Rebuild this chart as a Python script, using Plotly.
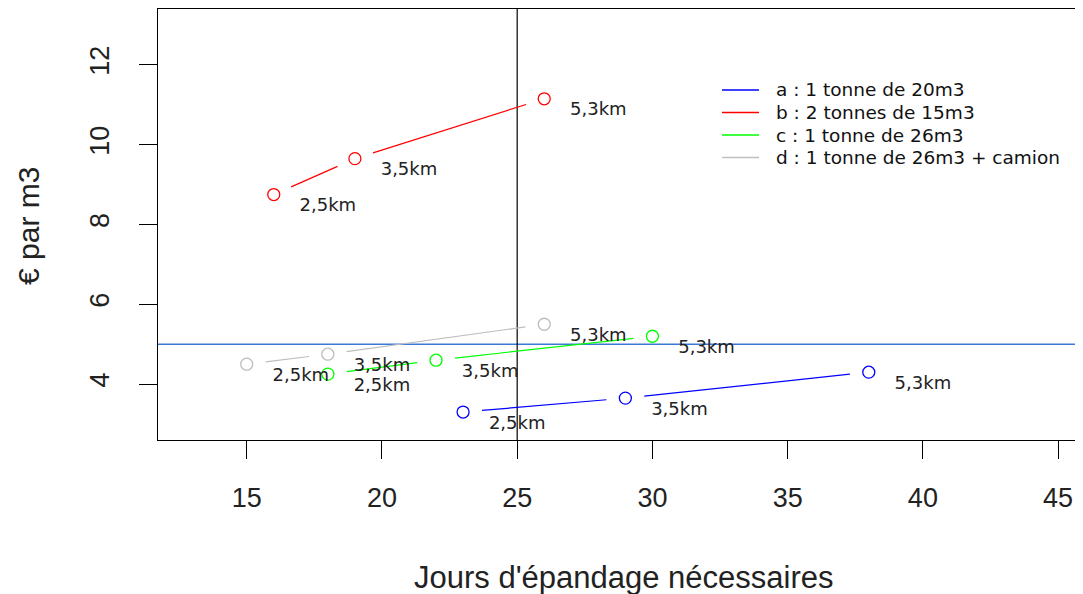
import plotly.graph_objects as go
import math

# ---------------- data ----------------
distance_labels = ["2,5km", "3,5km", "5,3km"]
series_names = [
    "a : 1 tonne de 20m3",
    "b : 2 tonnes de 15m3",
    "c : 1 tonne de 26m3",
    "d : 1 tonne de 26m3 + camion",
]
days_a = [23, 29, 38]
cost_a = [3.3, 3.65, 4.3]
days_b = [16, 19, 26]
cost_b = [8.75, 9.65, 11.15]
days_c = [18, 22, 30]
cost_c = [4.25, 4.6, 5.2]
days_d = [15, 18, 26]
cost_d = [4.5, 4.75, 5.5]
ref_days = 25
ref_cost = 5
x_ticks = [15, 20, 25, 30, 35, 40, 45]
y_ticks = [4, 6, 8, 10, 12]

# ---------------- style / geometry ----------------
colors = ["#0000FF", "#FF0000", "#00FF00", "#BEBEBE"]
OFF = 8  # page body margin offset
W, H = 1083 - OFF, 594 - OFF
ML, MT = 158 - OFF, 9 - OFF
MR = 0
MB = H - (440 - OFF)
XR = [11.72, 45.92]
YR = [2.6, 13.4]
FONT = "Liberation Sans, Arial, sans-serif"
FONT_SMALL = "DejaVu Sans, Liberation Sans, sans-serif"
GAP = 19  # px gap around points (R type="b")
LBL_DX, LBL_DY = 2.0, -0.3

pw = W - ML - MR
ph = H - MT - MB
sx = pw / (XR[1] - XR[0])
sy = ph / (YR[1] - YR[0])


def px_to_paper_x(px):
    return (px - OFF - ML) / pw


def px_to_paper_y(py):
    return 1 - (py - OFF - MT) / ph


def gapped(xs, ys):
    gx, gy = [], []
    for i in range(len(xs) - 1):
        dxp = (xs[i + 1] - xs[i]) * sx
        dyp = (ys[i + 1] - ys[i]) * sy
        L = math.hypot(dxp, dyp)
        t = GAP / L
        if t >= 0.5:
            continue
        gx += [xs[i] + (xs[i + 1] - xs[i]) * t, xs[i] + (xs[i + 1] - xs[i]) * (1 - t), None]
        gy += [ys[i] + (ys[i + 1] - ys[i]) * t, ys[i] + (ys[i + 1] - ys[i]) * (1 - t), None]
    return gx, gy


fig = go.Figure()

series = [(days_a, cost_a), (days_b, cost_b), (days_c, cost_c), (days_d, cost_d)]

# reference lines
fig.add_shape(type="line", xref="paper", yref="y", x0=0, x1=1, y0=ref_cost, y1=ref_cost,
              line=dict(color="#3C78D8", width=1.5), layer="below")
fig.add_shape(type="line", xref="x", yref="paper", x0=ref_days, x1=ref_days, y0=0, y1=1,
              line=dict(color="black", width=1.2), layer="below")

for (xs, ys), col in zip(series, colors):
    gx, gy = gapped(xs, ys)
    fig.add_trace(go.Scatter(x=gx, y=gy, mode="lines", line=dict(color=col, width=1.2),
                             showlegend=False, hoverinfo="skip"))
    fig.add_trace(go.Scatter(x=xs, y=ys, mode="markers",
                             marker=dict(symbol="circle-open", size=12, color=col, line=dict(width=1.3)),
                             showlegend=False))
    fig.add_trace(go.Scatter(x=[v + LBL_DX for v in xs], y=[v + LBL_DY for v in ys], mode="text",
                             text=distance_labels, textposition="middle center",
                             textfont=dict(family=FONT_SMALL, size=18, color="#222222"),
                             showlegend=False, hoverinfo="skip"))

# legend (R style, no box)
LEG_LINE_X0, LEG_LINE_X1, LEG_TEXT_X = 722, 759, 774
LEG_Y0, LEG_DY = 90, 22.5
for i, (col, name) in enumerate(zip(colors, series_names)):
    yy = px_to_paper_y(LEG_Y0 + i * LEG_DY)
    fig.add_shape(type="line", xref="paper", yref="paper",
                  x0=px_to_paper_x(LEG_LINE_X0), x1=px_to_paper_x(LEG_LINE_X1), y0=yy, y1=yy,
                  line=dict(color=col, width=1.5))
    fig.add_annotation(text=name, xref="paper", yref="paper", x=px_to_paper_x(LEG_TEXT_X), y=yy,
                       xanchor="left", yanchor="middle", showarrow=False,
                       font=dict(family=FONT_SMALL, size=18.5, color="#111111"))

axis_common = dict(showgrid=False, zeroline=False, showline=True, linecolor="black", linewidth=1.2,
                   ticks="outside", ticklen=18, tickwidth=1.2, tickcolor="black",
                   tickfont=dict(family=FONT, size=27, color="#222222"))

fig.update_xaxes(range=XR, tickvals=x_ticks, mirror=True, ticklabelstandoff=15, **axis_common)
fig.update_yaxes(range=YR, tickvals=y_ticks, tickangle=-90, ticklabelstandoff=19, **axis_common)

fig.add_annotation(text="Jours d'épandage nécessaires", xref="paper", yref="paper",
                   x=px_to_paper_x(624), y=px_to_paper_y(577), showarrow=False,
                   font=dict(family=FONT, size=31, color="#222222"), xanchor="center", yanchor="middle")
fig.add_annotation(text="€ par m3", xref="paper", yref="paper",
                   x=px_to_paper_x(28), y=px_to_paper_y(226), showarrow=False, textangle=-90,
                   font=dict(family=FONT, size=30, color="#222222"), xanchor="center", yanchor="middle")

fig.update_layout(
    width=W, height=H,
    margin=dict(l=ML, r=MR, t=MT, b=MB, pad=0),
    plot_bgcolor="white", paper_bgcolor="white",
    font=dict(family=FONT, color="#222222"),
    showlegend=False,
)

fig.write_html("out.html")
